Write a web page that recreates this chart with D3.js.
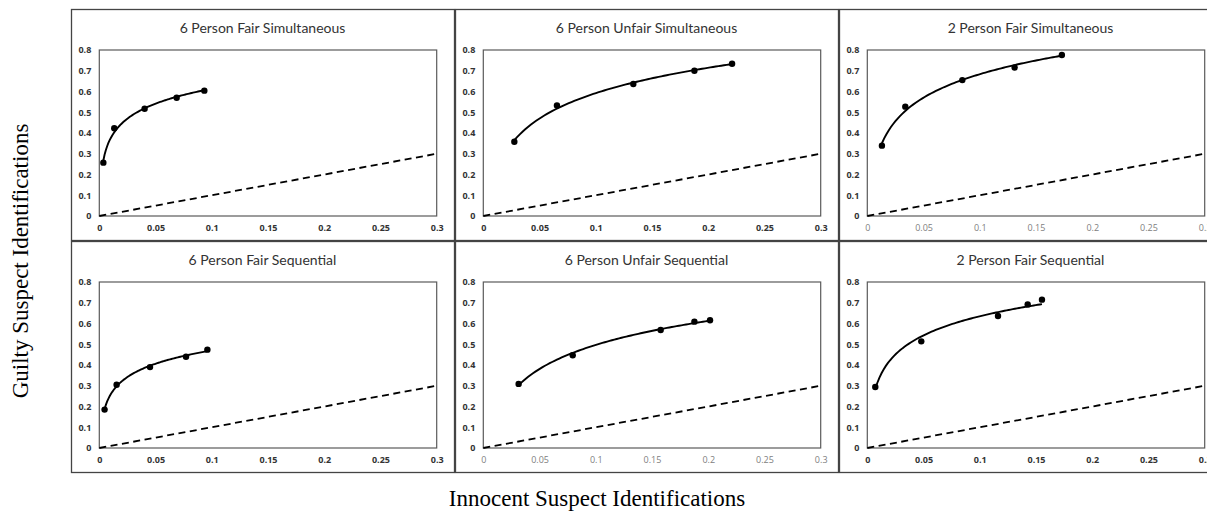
<!DOCTYPE html>
<html>
<head>
<meta charset="utf-8">
<script src="https://cdn.jsdelivr.net/npm/d3@7"></script>
<style>
  body { margin: 0; background: #fff; }
</style>
</head>
<body>
<script>
// datos (tasa de identificacion de inocentes / culpables)
const panelTitles = [
  "6 Person Fair Simultaneous", "6 Person Unfair Simultaneous", "2 Person Fair Simultaneous",
  "6 Person Fair Sequential", "6 Person Unfair Sequential", "2 Person Fair Sequential"
]
const innocentIds = [
  [0.0036, 0.0133, 0.0403, 0.0688, 0.0934],
  [0.0276, 0.0655, 0.1334, 0.1877, 0.2212],
  [0.0130, 0.0338, 0.0845, 0.1310, 0.1730],
  [0.0047, 0.0154, 0.0451, 0.0771, 0.0961],
  [0.0314, 0.0795, 0.1577, 0.1877, 0.2016],
  [0.0071, 0.0480, 0.1162, 0.1426, 0.1553]
]
const guiltyIds = [
  [0.257, 0.423, 0.517, 0.570, 0.604],
  [0.358, 0.533, 0.636, 0.700, 0.734],
  [0.339, 0.527, 0.655, 0.716, 0.776],
  [0.185, 0.305, 0.390, 0.440, 0.474],
  [0.309, 0.447, 0.569, 0.609, 0.616],
  [0.294, 0.514, 0.636, 0.692, 0.715]
]
const chanceLine = [0, 0.3]
const xTicks = [0, 0.05, 0.1, 0.15, 0.2, 0.25, 0.3]
const yTicks = [0, 0.1, 0.2, 0.3, 0.4, 0.5, 0.6, 0.7, 0.8]
const xTitle = "Innocent Suspect Identifications"
const yTitle = "Guilty Suspect Identifications"

// paneles con etiquetas del eje x en gris claro
const lightXPanels = [2, 4]

var W = 1207, H = 514
var colLeft = [71, 455, 839], rowTop = [9, 241]
var panelW = 383, panelH = 231
var pl = 28.3, pt = 41, pw = 337.4, ph = 166

var svg = d3.select("body")
    .append("svg")
    .attr("width", W)
    .attr("height", H)

// ajuste logaritmico (linea de tendencia tipo Excel)
function logFit(xs, ys) {
  var lx = xs.map(Math.log)
  var mx = d3.mean(lx), my = d3.mean(ys)
  var num = d3.sum(lx, (v, i) => (v - mx) * (ys[i] - my))
  var den = d3.sum(lx, v => (v - mx) * (v - mx))
  var b = num / den
  return { a: my - b * mx, b: b }
}

panelTitles.forEach(function (title, i) {
  var col = i % 3, row = Math.floor(i / 3)
  var g = svg.append("g")
      .attr("transform", `translate(${colLeft[col]},${rowTop[row]})`)

  g.append("rect")
      .attr("x", 0.5).attr("y", 0.5)
      .attr("width", panelW).attr("height", panelH)
      .attr("fill", "none")
      .attr("stroke", "#444")
      .attr("stroke-width", 1.3)

  var x = d3.scaleLinear().domain([0, 0.3]).range([pl, pl + pw])
  var y = d3.scaleLinear().domain([0, 0.8]).range([pt + ph, pt])

  g.append("text")
      .attr("x", panelW / 2)
      .attr("y", 24)
      .attr("text-anchor", "middle")
      .style("font-family", "Lato, 'Open Sans', sans-serif")
      .style("font-size", "14px")
      .style("fill", "#333")
      .text(title)

  g.append("rect")
      .attr("x", x(0)).attr("y", y(0.8))
      .attr("width", x(0.3) - x(0)).attr("height", y(0) - y(0.8))
      .attr("fill", "none")
      .attr("stroke", "#5a5a5a")
      .attr("stroke-width", 1.2)

  var light = lightXPanels.includes(i)
  var ax = g.append("g")
      .attr("transform", `translate(0,${y(0)})`)
      .call(d3.axisBottom(x).tickValues(xTicks).tickSize(0).tickPadding(9).tickFormat(d => String(d)))
  ax.select(".domain").remove()
  ax.selectAll("text")
      .style("font-family", "'Open Sans', sans-serif")
      .style("font-size", "9px")
      .style("font-weight", light ? "normal" : "bold")
      .style("fill", light ? "#808080" : "#333")

  var ay = g.append("g")
      .attr("transform", `translate(${x(0)},0)`)
      .call(d3.axisLeft(y).tickValues(yTicks).tickSize(0).tickPadding(8).tickFormat(d => String(d)))
  ay.select(".domain").remove()
  ay.selectAll("text")
      .style("font-family", "'Open Sans', sans-serif")
      .style("font-size", "9px")
      .style("font-weight", "bold")
      .style("fill", "#333")

  // linea de azar (diagonal discontinua)
  g.append("line")
      .attr("x1", x(chanceLine[0])).attr("y1", y(chanceLine[0]))
      .attr("x2", x(chanceLine[1])).attr("y2", y(chanceLine[1]))
      .attr("stroke", "#000")
      .attr("stroke-width", 1.8)
      .attr("stroke-dasharray", "7,4.5")

  var xs = innocentIds[i], ys = guiltyIds[i]
  var fit = logFit(xs, ys)
  var x0 = d3.min(xs), x1 = d3.max(xs)
  var trend = d3.range(0, 81).map(k => {
    var t = x0 + (x1 - x0) * k / 80
    return [t, fit.a + fit.b * Math.log(t)]
  })
  g.append("path")
      .datum(trend)
      .attr("fill", "none")
      .attr("stroke", "#000")
      .attr("stroke-width", 1.9)
      .attr("d", d3.line().x(d => x(d[0])).y(d => y(d[1])))

  g.selectAll("circle")
      .data(xs.map((v, k) => [v, ys[k]]))
      .enter()
      .append("circle")
      .attr("cx", d => x(d[0]))
      .attr("cy", d => y(d[1]))
      .attr("r", 3.2)
      .attr("fill", "#000")
})

// titulos de los ejes
svg.append("text")
    .attr("x", 597)
    .attr("y", 506)
    .attr("text-anchor", "middle")
    .style("font-family", "'Liberation Serif', 'Times New Roman', serif")
    .style("font-size", "23px")
    .style("fill", "#000")
    .text(xTitle)

svg.append("text")
    .attr("transform", "translate(28,261) rotate(-90)")
    .attr("text-anchor", "middle")
    .style("font-family", "'Liberation Serif', 'Times New Roman', serif")
    .style("font-size", "23px")
    .style("fill", "#000")
    .text(yTitle)
</script>
</body>
</html>
